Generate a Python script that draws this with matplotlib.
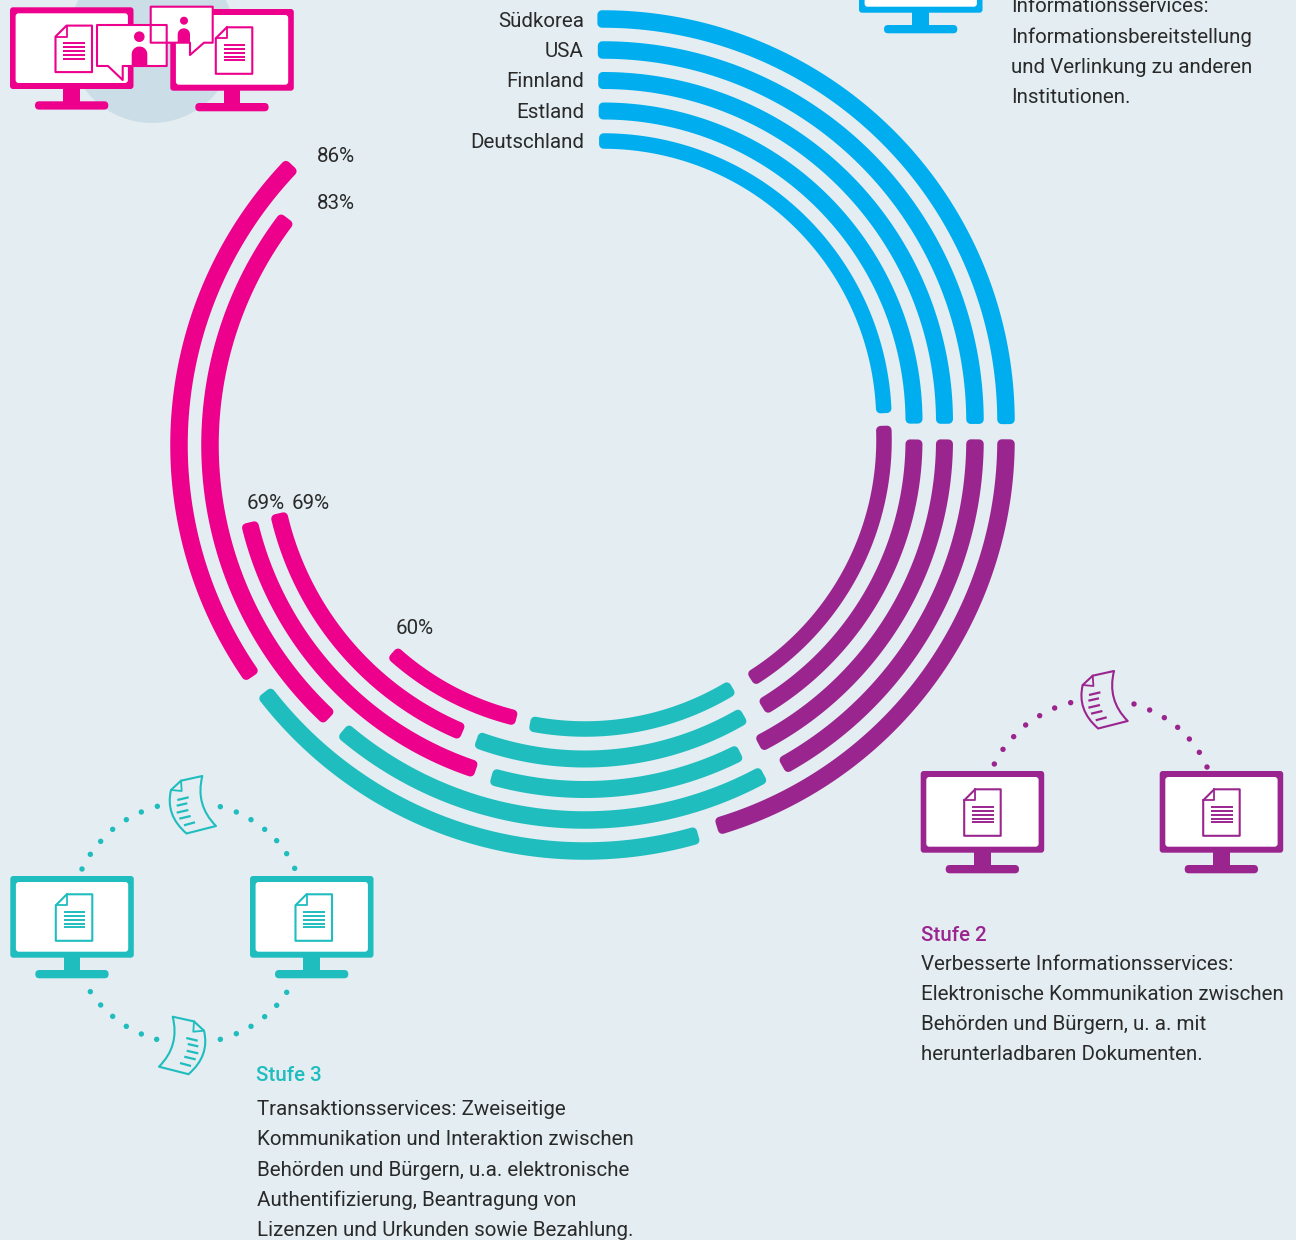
import numpy as np
import matplotlib
matplotlib.use("Agg")
import matplotlib.pyplot as plt
from matplotlib.patches import Polygon, FancyBboxPatch, Circle, PathPatch, Rectangle
from matplotlib.path import Path

# ---------- data (arc lengths in degrees) ----------
countries = ["Südkorea", "USA", "Finnland", "Estland", "Deutschland"]
stage1_sweep = [91.1, 91.1, 91.1, 91.1, 89.0]
stage2_sweep = [73.7, 61.3, 63.0, 59.3, 61.2]
stage3_sweep = [69.0, 69.3, 42.9, 51.1, 42.9]
stage4_sweep = [79.1, 84.8, 58.8, 54.7, 28.9]
stage4_labels = ["86%", "83%", "69%", "69%", "60%"]

stage2_lines = ["Verbesserte Informationsservices:", "Elektronische Kommunikation zwischen",
                "Behörden und Bürgern, u. a. mit", "herunterladbaren Dokumenten."]
stage3_lines = ["Transaktionsservices: Zweiseitige", "Kommunikation und Interaktion zwischen",
                "Behörden und Bürgern, u.a. elektronische", "Authentifizierung, Beantragung von",
                "Lizenzen und Urkunden sowie Bezahlung."]
stage1_lines = ["Informationsservices:", "Informationsbereitstellung",
                "und Verlinkung zu anderen", "Institutionen."]

# ---------- style ----------
BG = "#e3edf2"; BLUE = "#00aeef"; PURPLE = "#9b258f"; TEAL = "#20bdbe"; PINK = "#ec008c"
INK = "#2a2a2a"
RADII = [403, 372, 341.5, 311, 281]
WIDTHS = [17.5, 17.5, 17, 17, 15.5]
CENTERS = {"b": (603, 422), "p": (603, 440), "t": (585, 448), "k": (582, 445)}
FONT = "Roboto"
FS = 14.8
PX = 72 / 100  # one pixel in points

fig = plt.figure(figsize=(12.96, 12.40), dpi=100, facecolor=BG)
ax = fig.add_axes([0, 0, 1, 1])
ax.set_xlim(0, 1296); ax.set_ylim(1240, 0); ax.axis("off")


def arc(center, r, w, start, sweep, color):
    cx, cy = center
    corner = 4.5
    da = np.degrees(corner / r)
    th = np.radians(np.linspace(start + da, start + sweep - da, 160))
    ro, ri = r + w / 2 - corner, r - w / 2 + corner
    xy = np.vstack([
        np.column_stack([cx + ro * np.sin(th), cy - ro * np.cos(th)]),
        np.column_stack([cx + ri * np.sin(th[::-1]), cy - ri * np.cos(th[::-1])]),
    ])
    ax.add_patch(Polygon(xy, closed=True, fc=color, ec=color, lw=2 * corner * PX,
                         joinstyle="round", zorder=3))


purple_lead = [0.4, 0.4, 0.4, 0.4, 1.1]
for i, r in enumerate(RADII):
    b = -0.8
    arc(CENTERS["b"], r, WIDTHS[i], b, stage1_sweep[i], BLUE)
    b += stage1_sweep[i] - purple_lead[i]
    arc(CENTERS["p"], r, WIDTHS[i], b, stage2_sweep[i], PURPLE)
    b += stage2_sweep[i] + 0.1
    arc(CENTERS["t"], r, WIDTHS[i], b, stage3_sweep[i], TEAL)
    b += stage3_sweep[i] + 2.2
    arc(CENTERS["k"], r, WIDTHS[i], b, stage4_sweep[i], PINK)


def txt(x, y, s, color=INK, ha="left", weight="normal", fs=FS):
    ax.text(x, y, s, color=color, ha=ha, va="baseline", fontsize=fs,
            family=FONT, fontweight=weight, zorder=6)


# country labels and percentages
for name, y in zip(countries, [27, 57, 87, 118, 148]):
    txt(584, y, name, ha="right")
for lab, (x, y) in zip(stage4_labels, [(317, 162), (317, 209), (247, 509), (292, 509), (396, 634)]):
    txt(x, y, lab)

# text blocks
for s, y in zip(stage1_lines, [12, 43, 73, 103]):
    txt(1011, y, s)
txt(921, 941, "Stufe 2", color=PURPLE, weight="medium")
for s, y in zip(stage2_lines, [970, 1000, 1030, 1060]):
    txt(921, y, s)
txt(256, 1081, "Stufe 3", color=TEAL, weight="medium")
for s, y in zip(stage3_lines, [1115, 1145, 1176, 1206, 1236]):
    txt(257, y, s)


# ---------- pictograms ----------
def rrect(x, y, w, h, rad, fc, z=4, ec="none", lw=0):
    ax.add_patch(FancyBboxPatch((x + rad, y + rad), w - 2 * rad, h - 2 * rad,
                                boxstyle=f"round,pad={rad},rounding_size={rad}",
                                fc=fc, ec=ec, lw=lw, zorder=z))


def document(x, y, color, z=5):
    w, h, f = 36.5, 46.5, 11
    pts = [(x, y + f), (x + f, y), (x + w, y), (x + w, y + h), (x, y + h), (x, y + f)]
    ax.add_patch(Polygon(pts, closed=True, fc="white", ec=color, lw=1.5, joinstyle="round", zorder=z))
    ax.plot([x + f, x + f, x], [y, y + f, y + f], color=color, lw=1.3, zorder=z)
    for k in range(5):
        yy = y + 17.5 + k * 3.9
        ax.plot([x + 7.7, x + 29.3], [yy, yy], color=color, lw=1.4, zorder=z, solid_capstyle="butt")


def monitor(x0, y0, color, dx=45.5, doc=True):
    rrect(x0, y0, 123.5, 81.7, 3, color)
    rrect(x0 + 5.6, y0 + 6, 112.3, 69.7, 3, "white", z=4.2)
    ax.add_patch(Rectangle((x0 + 53.3, y0 + 81), 16.7, 13.5, fc=color, ec="none", zorder=4))
    rrect(x0 + 25, y0 + 94, 73.3, 8.3, 4.1, color)
    if doc:
        document(x0 + dx, y0 + 18.3, color)


def sheet(x0, y0, color, mirror=False):
    s = -1 if mirror else 1
    P = lambda a, b: (x0 + s * a, y0 + b)
    verts = [P(0, 0), P(10, -9.3), P(31.3, -14), P(24, 15), P(45, 36), P(15.5, 43.5), P(-6, 25), P(0, 0)]
    codes = [Path.MOVETO, Path.LINETO, Path.LINETO, Path.CURVE3, Path.CURVE3, Path.LINETO, Path.CURVE3, Path.CURVE3]
    ax.add_patch(PathPatch(Path(verts, codes), fc="none", ec=color, lw=1.5, joinstyle="round", zorder=5))
    ax.plot(*zip(P(10, -9.3), P(10.7, 1), P(0, 0)), color=color, lw=1.3, zorder=5)
    for a, b in [((6.3, 10), (17.7, 7.3)), ((5.7, 15.7), (16.3, 13.3)), ((5.7, 22.7), (17.3, 20)),
                 ((8.3, 28.7), (19.7, 26)), ((13, 35.3), (24, 32.3))]:
        ax.plot(*zip(P(*a), P(*b)), color=color, lw=1.6, zorder=5, solid_capstyle="butt")


def dots(pts, ox, oy, color):
    for zx, zy in pts:
        ax.add_patch(Circle((ox + zx / 3, oy + zy / 3), 2.7, fc=color, ec="none", zorder=4))


# pink (stage 4)
ax.add_patch(Circle((152, 39.5), 83.5, fc="#cbdde6", ec="none", zorder=1))
monitor(10, 7.3, PINK)
monitor(170.3, 9, PINK)


def bubble(x0, y0, x1, y1, tail, head, body):
    verts = [(x0, y0), (x1, y0), (x1, y1), tail[2], tail[1], tail[0], (x0, y1), (x0, y0)]
    ax.add_patch(Polygon(verts, closed=True, fc="white", ec="none", zorder=4.6))
    ax.add_patch(Circle(head[:2], head[2], fc=PINK, ec="none", zorder=4.7))
    bx0, bx1, by0, by1 = body
    rb = (bx1 - bx0) / 2
    t = np.linspace(np.pi, 0, 30)
    xs = np.r_[bx0, bx0 + rb + rb * np.cos(t), bx1]
    ys = np.r_[by1, by0 + rb - rb * np.sin(t), by1]
    ax.add_patch(Polygon(np.column_stack([xs, ys]), closed=True, fc=PINK, ec="none", zorder=4.7))
    return verts


v1 = bubble(97, 25, 166.7, 66, [(108, 66), (122.7, 80), (122.7, 66)], (139.3, 36.7, 5.3), (131.7, 147.3, 46.5, 66))
v2 = bubble(150.7, 6.7, 212.7, 42.7, [(190, 42.7), (190, 55), (204, 42.7)], (184, 20.7, 4), (177.7, 190, 28.3, 42.7))
for v in (v1, v2):
    ax.add_patch(Polygon(v, closed=True, fc="none", ec=PINK, lw=1.5, joinstyle="round", zorder=4.8))

# blue (stage 1)
monitor(859, -69, BLUE, doc=False)

# purple (stage 2)
monitor(920.7, 771, PURPLE, dx=43.5)
monitor(1159.7, 771, PURPLE, dx=43.5)
sheet(1082.7, 685, PURPLE)
dots([(283, 312), (309, 268), (341, 230), (377, 195), (419, 167), (464, 144), (512, 128),
      (702, 132), (749, 150), (793, 173), (833, 202), (868, 237), (898, 277), (921, 321)], 900, 660, PURPLE)

# teal (stage 3)
monitor(10.3, 876, TEAL)
monitor(250, 876, TEAL)
sheet(171, 790, TEAL)
sheet(204, 1030.7, TEAL, mirror=True)
dots([(246, 312), (271, 268), (302, 229), (338, 193), (379, 164), (424, 141), (472, 124),
      (661, 125), (709, 141), (753, 164), (794, 193), (830, 227), (860, 266), (884, 310),
      (271, 680), (302, 720), (338, 754), (379, 784), (424, 807), (470, 823),
      (860, 682), (830, 721), (794, 755), (753, 784), (709, 806), (661, 823)], 0, 765, TEAL)

fig.savefig("out.png", dpi=100, facecolor=BG)
